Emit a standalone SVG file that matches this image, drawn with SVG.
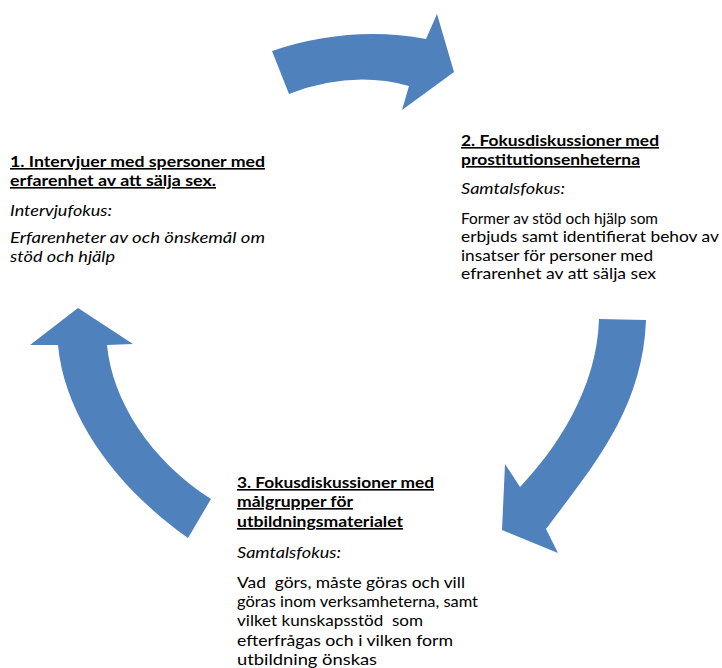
<svg xmlns="http://www.w3.org/2000/svg" width="722" height="668" viewBox="0 0 722 668">
<style>
text{font-family:Lato,"Liberation Sans",sans-serif;font-size:16px;fill:#000;white-space:pre}
.h{font-weight:bold;text-decoration:underline}
.i{font-style:italic}
.arrow{fill:#4F81BD;stroke:none}
</style>
<rect width="722" height="668" fill="#fff"/>
<g id="connectors">
<path class="arrow" d="M272,51 Q350,25 426,39 L437,14 L454,72 L402,110 L409,86 Q351,70 289,94 Z"/>
<path class="arrow" d="M599,319 L646,320 C643,410 590,470 546,529 L558,553 L502,530 L505,464 L520,487 C555,450 597,390 599,319 Z"/>
<path class="arrow" d="M78,308 L133,344 L107,345 C112,400 150,460 211,499 L188,538 C120,490 65,420 58,345 L30,345 Z"/>
</g>
<g id="node1">
<text class="h" x="10" y="167" textLength="255" lengthAdjust="spacingAndGlyphs">1. Intervjuer med spersoner med</text>
<text class="h" x="10" y="186" textLength="206" lengthAdjust="spacingAndGlyphs">erfarenhet av att sälja sex.</text>
<text class="i" x="10" y="216" textLength="102" lengthAdjust="spacingAndGlyphs">Intervjufokus:</text>
<text class="i" x="10" y="243" textLength="255" lengthAdjust="spacingAndGlyphs">Erfarenheter av och önskemål om</text>
<text class="i" x="10" y="262" textLength="105" lengthAdjust="spacingAndGlyphs">stöd och hjälp</text>
</g>
<g id="node2">
<text class="h" x="461" y="146" textLength="198" lengthAdjust="spacingAndGlyphs">2. Fokusdiskussioner med</text>
<text class="h" x="461" y="165" textLength="179" lengthAdjust="spacingAndGlyphs">prostitutionsenheterna</text>
<text class="i" x="461" y="194" textLength="104" lengthAdjust="spacingAndGlyphs">Samtalsfokus:</text>
<text x="461" y="223.5" textLength="197" lengthAdjust="spacingAndGlyphs">Former av stöd och hjälp som</text>
<text x="461" y="242" textLength="258" lengthAdjust="spacingAndGlyphs">erbjuds samt identifierat behov av</text>
<text x="461" y="260.5" textLength="192" lengthAdjust="spacingAndGlyphs">insatser för personer med</text>
<text x="461" y="279" textLength="195" lengthAdjust="spacingAndGlyphs">efrarenhet av att sälja sex</text>
</g>
<g id="node3">
<text class="h" x="237" y="488" textLength="197" lengthAdjust="spacingAndGlyphs">3. Fokusdiskussioner med</text>
<text class="h" x="237" y="507" textLength="116" lengthAdjust="spacingAndGlyphs">målgrupper för</text>
<text class="h" x="237" y="527" textLength="166" lengthAdjust="spacingAndGlyphs">utbildningsmaterialet</text>
<text class="i" x="237" y="558" textLength="104" lengthAdjust="spacingAndGlyphs">Samtalsfokus:</text>
<text x="237" y="588" textLength="228" lengthAdjust="spacingAndGlyphs">Vad  görs, måste göras och vill</text>
<text x="237" y="607" textLength="241" lengthAdjust="spacingAndGlyphs">göras inom verksamheterna, samt</text>
<text x="237" y="626" textLength="186" lengthAdjust="spacingAndGlyphs">vilket kunskapsstöd  som</text>
<text x="237" y="645.5" textLength="216" lengthAdjust="spacingAndGlyphs">efterfrågas och i vilken form</text>
<text x="237" y="665" textLength="140" lengthAdjust="spacingAndGlyphs">utbildning önskas</text>
</g>
</svg>
